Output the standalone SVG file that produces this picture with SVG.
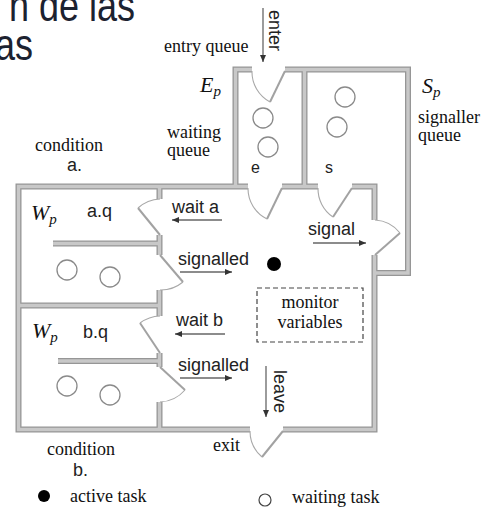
<svg xmlns="http://www.w3.org/2000/svg" width="491" height="518" viewBox="0 0 491 518">
<defs>
<marker id="ah" markerUnits="userSpaceOnUse" markerWidth="7" markerHeight="6" refX="7" refY="3" orient="auto">
<path d="M0,0 L7,3 L0,6 z" fill="#333"/>
</marker>
<style>
.wd{fill:none;stroke:#969696;stroke-width:6;stroke-linejoin:miter}
.wl{fill:none;stroke:#c8c8c8;stroke-width:3.4;stroke-linejoin:miter}
.leaf{fill:none;stroke:#a2a2a2;stroke-width:2}
.arc{fill:none;stroke:#a8a8a8;stroke-width:1.1}
.q{fill:none;stroke:#8a8a8a;stroke-width:1.3}
.sans{font-family:"Liberation Sans",Arial,sans-serif;font-size:18px;fill:#222}
.serif{font-family:"Liberation Serif","Times New Roman",serif;font-size:18px;fill:#111}
.math{font-family:"Liberation Serif","Times New Roman",serif;font-style:italic;font-size:22px;fill:#111}
.sub{font-size:15px}
.arr{fill:none;stroke:#666;stroke-width:1.3;marker-end:url(#ah)}
</style>
</defs>
<rect width="491" height="518" fill="#fff"/>
<g id="title">
<text x="135" y="21" text-anchor="end" transform="translate(0,-5) scale(1,1.25)" style="font-family:'Liberation Sans',Arial,sans-serif;font-size:36px;fill:#1c2230">n de las</text>
<text x="33" y="48" text-anchor="end" transform="scale(1,1.25)" style="font-family:'Liberation Sans',Arial,sans-serif;font-size:36px;fill:#1c2230">as</text>
</g>
<g id="walls">
<g class="wd">
<path d="M250,429.5 H18.5 V186.5 H248"/>
<path d="M282,186.5 H318"/>
<path d="M352,186.5 H374.5 V220"/>
<path d="M374.5,255 V429.5 H283"/>
<path d="M235.5,186.5 V69.5 H252"/>
<path d="M285,69.5 H408 V273 H374.5"/>
<path d="M304.5,69.5 V186.5"/>
<path d="M159.5,186.5 V199 M159.5,235 V255 M159.5,290 V316 M159.5,353 V367 M159.5,402 V429.5"/>
<path d="M18.5,305.5 H159.5 M53,243.5 H159.5 M58,361 H159.5"/>
</g>
<g class="wl">
<path d="M250,429.5 H18.5 V186.5 H248"/>
<path d="M282,186.5 H318"/>
<path d="M352,186.5 H374.5 V220"/>
<path d="M374.5,255 V429.5 H283"/>
<path d="M235.5,186.5 V69.5 H252"/>
<path d="M285,69.5 H408 V273 H374.5"/>
<path d="M304.5,69.5 V186.5"/>
<path d="M159.5,186.5 V199 M159.5,235 V255 M159.5,290 V316 M159.5,353 V367 M159.5,402 V429.5"/>
<path d="M18.5,305.5 H159.5 M53,243.5 H159.5 M58,361 H159.5"/>
</g>
</g>
<g id="doors">
<path class="leaf" d="M285,71 L270,102"/>
<path class="arc" d="M252,71 A34,34 0 0 0 270,102"/>
<path class="leaf" d="M282,188 L267,219"/>
<path class="arc" d="M248,188 A34,34 0 0 0 267,219"/>
<path class="leaf" d="M352,188 L333,217"/>
<path class="arc" d="M318,188 A34,34 0 0 0 333,217"/>
<path class="leaf" d="M375,255 L400,233"/>
<path class="arc" d="M375,220 A34,34 0 0 1 400,233"/>
<path class="leaf" d="M283,431 L262,457"/>
<path class="arc" d="M250,431 A34,34 0 0 0 262,457"/>
<path class="leaf" d="M160,235 L138,208"/>
<path class="arc" d="M160,199 A35,35 0 0 0 138,208"/>
<path class="leaf" d="M160,255 L183,282"/>
<path class="arc" d="M160,290 A35,35 0 0 0 183,282"/>
<path class="leaf" d="M160,353 L140,323"/>
<path class="arc" d="M160,316 A36,36 0 0 0 140,323"/>
<path class="leaf" d="M160,367 L185,390"/>
<path class="arc" d="M160,402 A35,35 0 0 0 185,390"/>
</g>
<g id="entry-queue">
<circle class="q" cx="263" cy="118" r="10"/>
<circle class="q" cx="268" cy="147" r="10"/>
<text class="sans" x="251" y="173" style="font-size:16px">e</text>
</g>
<g id="signaller-queue">
<circle class="q" cx="345" cy="97" r="10"/>
<circle class="q" cx="337" cy="127" r="10"/>
<text class="sans" x="325" y="173" style="font-size:16px">s</text>
</g>
<g id="condition-a">
<circle class="q" cx="67" cy="270" r="10"/>
<circle class="q" cx="110" cy="277" r="10"/>
<text class="math" x="31" y="220">W<tspan class="sub" dy="4">p</tspan></text>
<text class="sans" x="87" y="217">a.q</text>
</g>
<g id="condition-b">
<circle class="q" cx="67" cy="386" r="10"/>
<circle class="q" cx="110" cy="395" r="10"/>
<text class="math" x="32" y="338">W<tspan class="sub" dy="4">p</tspan></text>
<text class="sans" x="83" y="338">b.q</text>
</g>
<g id="monitor-variables">
<rect x="257" y="288" width="106" height="54" fill="none" stroke="#444" stroke-width="1.2" stroke-dasharray="5,3"/>
<text class="serif" x="310" y="308" text-anchor="middle">monitor</text>
<text class="serif" x="310" y="328" text-anchor="middle">variables</text>
</g>
<g id="active-task">
<circle cx="274" cy="264" r="7" fill="#000"/>
</g>
<g id="labels">
<text class="serif" x="164" y="52">entry queue</text>
<text class="math" x="200" y="92">E<tspan class="sub" dy="4">p</tspan></text>
<text class="math" x="422" y="93">S<tspan class="sub" dy="4">p</tspan></text>
<text class="serif" x="167" y="138">waiting</text>
<text class="serif" x="167" y="156">queue</text>
<text class="serif" x="418" y="123">signaller</text>
<text class="serif" x="418" y="141">queue</text>
<text class="serif" x="35" y="151">condition</text>
<text class="sans" x="67" y="171">a.</text>
<text class="serif" x="47" y="455">condition</text>
<text class="sans" x="73" y="476">b.</text>
<text class="serif" x="213" y="451">exit</text>
<text class="sans" x="172" y="213">wait a</text>
<text class="sans" x="178" y="265">signalled</text>
<text class="sans" x="308" y="235">signal</text>
<text class="sans" x="176" y="326">wait b</text>
<text class="sans" x="178" y="371">signalled</text>
<text class="sans" x="269" y="10" transform="rotate(90 269 10)">enter</text>
<text class="sans" x="274" y="370" transform="rotate(90 274 370)">leave</text>
</g>
<g id="connectors">
<path class="arr" d="M263,8 V62"/>
<path class="arr" d="M266,366 V417"/>
<path class="arr" d="M222,220 H172"/>
<path class="arr" d="M180,272 H232"/>
<path class="arr" d="M313,243 H366"/>
<path class="arr" d="M225,334 H175"/>
<path class="arr" d="M180,378 H232"/>
</g>
<g id="legend">
<circle cx="44" cy="496" r="6" fill="#000"/>
<text class="serif" x="70" y="502">active task</text>
<circle cx="265" cy="500" r="6" fill="none" stroke="#444" stroke-width="1.2"/>
<text class="serif" x="292" y="503">waiting task</text>
</g>
</svg>
